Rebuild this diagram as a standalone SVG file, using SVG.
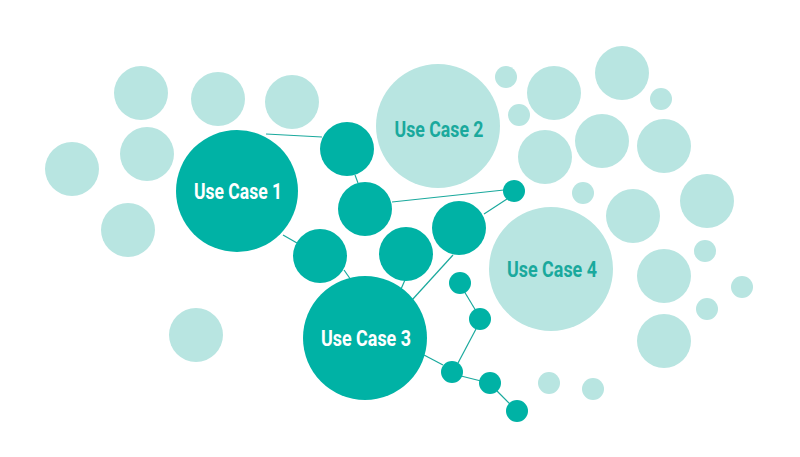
<svg xmlns="http://www.w3.org/2000/svg" width="800" height="457" viewBox="0 0 800 457">
<style>
.l{fill:#b8e5e1}
.d{fill:#00b2a5}
.c line{stroke:#1aa99d;stroke-width:1.2}
.t{font-family:Roboto,"Liberation Sans",sans-serif;font-weight:700;font-size:22px;text-anchor:middle}
.tw{fill:#ffffff}
.tl{fill:#1aa99d}
</style>
<rect width="800" height="457" fill="#ffffff"/>
<g class="c" id="connectors">
<line x1="266" y1="134" x2="322" y2="137"/>
<line x1="355" y1="175" x2="358" y2="183"/>
<line x1="283" y1="235" x2="297" y2="243"/>
<line x1="392" y1="202" x2="504" y2="190"/>
<line x1="484" y1="214" x2="507" y2="199"/>
<line x1="344" y1="270" x2="351" y2="280"/>
<line x1="405" y1="280" x2="401" y2="289"/>
<line x1="453" y1="255" x2="412" y2="300"/>
<line x1="464" y1="291" x2="476" y2="311"/>
<line x1="476" y1="329" x2="458" y2="363"/>
<line x1="424" y1="355" x2="443" y2="365"/>
<line x1="461" y1="376" x2="481" y2="381"/>
<line x1="497" y1="391" x2="510" y2="404"/>
</g>
<g id="bg-light">
<circle class="l" cx="141" cy="93" r="27"/>
<circle class="l" cx="218" cy="99" r="27"/>
<circle class="l" cx="292" cy="102" r="27"/>
<circle class="l" cx="147" cy="154" r="27"/>
<circle class="l" cx="72" cy="169" r="27"/>
<circle class="l" cx="128" cy="230" r="27"/>
<circle class="l" cx="196" cy="335" r="27"/>
<circle class="l" cx="506" cy="77" r="11"/>
<circle class="l" cx="554" cy="93" r="27"/>
<circle class="l" cx="622" cy="73" r="27"/>
<circle class="l" cx="661" cy="99" r="11"/>
<circle class="l" cx="519" cy="115" r="11"/>
<circle class="l" cx="545" cy="157" r="27"/>
<circle class="l" cx="602" cy="141" r="27"/>
<circle class="l" cx="664" cy="146" r="27"/>
<circle class="l" cx="583" cy="193" r="11"/>
<circle class="l" cx="633" cy="216" r="27"/>
<circle class="l" cx="707" cy="201" r="27"/>
<circle class="l" cx="705" cy="251" r="11"/>
<circle class="l" cx="664" cy="276" r="27"/>
<circle class="l" cx="742" cy="287" r="11"/>
<circle class="l" cx="707" cy="309" r="11"/>
<circle class="l" cx="664" cy="341" r="27"/>
<circle class="l" cx="549" cy="383" r="11"/>
<circle class="l" cx="593" cy="389" r="11"/>
</g>
<g id="bg-dark">
<circle class="d" cx="347" cy="149" r="27"/>
<circle class="d" cx="365" cy="209" r="27"/>
<circle class="d" cx="320" cy="256" r="27"/>
<circle class="d" cx="406" cy="254" r="27"/>
<circle class="d" cx="459" cy="228" r="27"/>
<circle class="d" cx="514" cy="191" r="11"/>
<circle class="d" cx="460" cy="283" r="11"/>
<circle class="d" cx="480" cy="319" r="11"/>
<circle class="d" cx="452" cy="372" r="11"/>
<circle class="d" cx="490" cy="383" r="11"/>
<circle class="d" cx="517" cy="411" r="11"/>
</g>
<g id="uc1">
<circle class="d" cx="237" cy="191" r="61"/>
<text class="t tw" x="238" y="199" textLength="88" lengthAdjust="spacingAndGlyphs">Use Case 1</text>
</g>
<g id="uc2">
<circle class="l" cx="438" cy="126" r="62"/>
<text class="t tl" x="439" y="137" textLength="89" lengthAdjust="spacingAndGlyphs">Use Case 2</text>
</g>
<g id="uc3">
<circle class="d" cx="365" cy="338" r="62"/>
<text class="t tw" x="366" y="346" textLength="90" lengthAdjust="spacingAndGlyphs">Use Case 3</text>
</g>
<g id="uc4">
<circle class="l" cx="551" cy="269" r="62"/>
<text class="t tl" x="552" y="277" textLength="90" lengthAdjust="spacingAndGlyphs">Use Case 4</text>
</g>
</svg>
